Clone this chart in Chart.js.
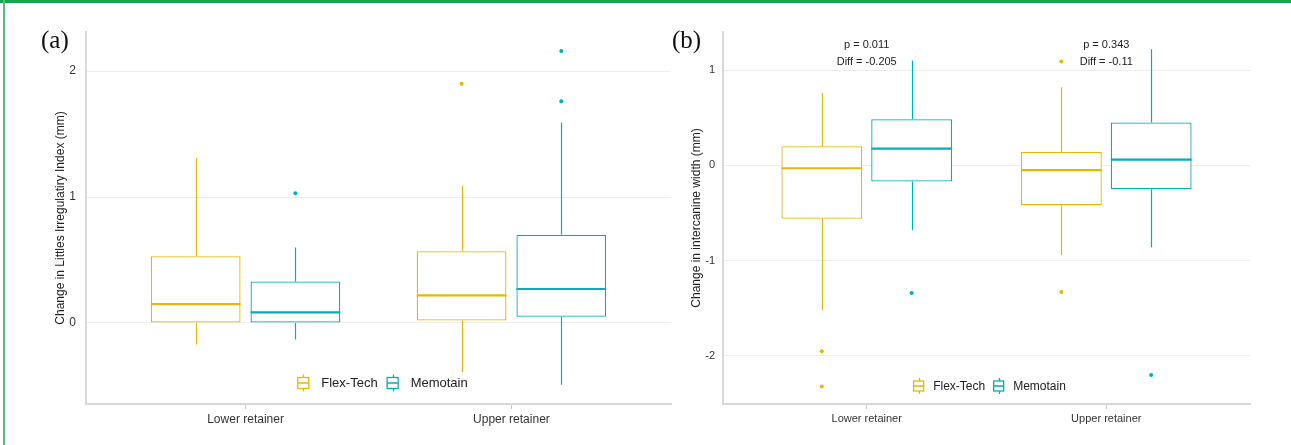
<!DOCTYPE html>
<html><head><meta charset="utf-8">
<script src="https://cdn.jsdelivr.net/npm/chart.js@4.4.1/dist/chart.umd.min.js"></script>
<style>
html,body{margin:0;padding:0;background:#fff;width:1291px;height:445px;overflow:hidden;}
#topbar{position:absolute;left:0;top:0;width:1291px;height:3px;background:#12a74d;}
#leftbar{position:absolute;left:3px;top:0;width:2px;height:445px;background:#52c079;}
.panel{position:absolute;top:0;}
.tag{position:absolute;font-family:"Liberation Serif","DejaVu Serif",serif;font-size:25px;line-height:25px;color:#111;}
</style></head>
<body>
<div id="topbar"></div><div id="leftbar"></div>
<canvas id="ca" class="panel" width="680" height="445" style="left:0"></canvas>
<canvas id="cb" class="panel" width="611" height="445" style="left:680px"></canvas>
<div class="tag" style="left:41px;top:27px">(a)</div>
<div class="tag" style="left:672px;top:27px">(b)</div>
<script>
const categories = ['Lower retainer', 'Upper retainer'];
const seriesNames = ['Flex-Tech', 'Memotain'];
const seriesColors = ['#E7B800', '#00AFBB'];

// Panel (a): Change in Littles Irregularity Index
const aFlexMin = [-0.17, -0.39];
const aFlexQ1  = [0.00, 0.02];
const aFlexMed = [0.15, 0.22];
const aFlexQ3  = [0.53, 0.57];
const aFlexMax = [1.31, 1.09];
const aFlexOut = [[], [1.90]];
const aMemoMin = [-0.13, -0.49];
const aMemoQ1  = [0.00, 0.05];
const aMemoMed = [0.085, 0.27];
const aMemoQ3  = [0.33, 0.70];
const aMemoMax = [0.60, 1.59];
const aMemoOut = [[1.03], [2.16, 1.76]];
const aYTicks = [0, 1, 2];

// Panel (b): Change in intercanine width
const bFlexMin = [-1.52, -0.94];
const bFlexQ1  = [-0.56, -0.42];
const bFlexMed = [-0.03, -0.05];
const bFlexQ3  = [0.20, 0.14];
const bFlexMax = [0.76, 0.82];
const bFlexOut = [[-1.95, -2.32], [1.09, -1.33]];
const bMemoMin = [-0.68, -0.86];
const bMemoQ1  = [-0.17, -0.25];
const bMemoMed = [0.175, 0.06];
const bMemoQ3  = [0.485, 0.45];
const bMemoMax = [1.10, 1.22];
const bMemoOut = [[-1.34], [-2.20]];
const bYTicks = [-2, -1, 0, 1];
const bPLabels = ['p = 0.011', 'p = 0.343'];
const bDiffLabels = ['Diff = -0.205', 'Diff = -0.11'];

const FONT = '"Liberation Sans", Arial, sans-serif';

const boxPlugin = {
  id: 'boxParts',
  afterDatasetsDraw(chart) {
    const ctx = chart.ctx, y = chart.scales.y;
    chart.data.datasets.forEach((ds, di) => {
      const meta = chart.getDatasetMeta(di);
      const s = ds.stats;
      meta.data.forEach((el, j) => {
        const x = Math.round(el.x) + 0.5;
        ctx.save();
        ctx.strokeStyle = ds.borderColor;
        ctx.lineWidth = 1.2;
        ctx.beginPath();
        ctx.moveTo(x, y.getPixelForValue(s.q3[j])); ctx.lineTo(x, y.getPixelForValue(s.max[j]));
        ctx.moveTo(x, y.getPixelForValue(s.q1[j])); ctx.lineTo(x, y.getPixelForValue(s.min[j]));
        ctx.stroke();
        ctx.lineWidth = 2.2;
        const ym = y.getPixelForValue(s.med[j]);
        ctx.beginPath();
        ctx.moveTo(el.x - el.width / 2, ym); ctx.lineTo(el.x + el.width / 2, ym);
        ctx.stroke();
        ctx.fillStyle = ds.borderColor;
        s.out[j].forEach(v => {
          ctx.beginPath();
          ctx.arc(el.x, y.getPixelForValue(v), 2, 0, Math.PI * 2);
          ctx.fill();
        });
        ctx.restore();
      });
    });
  }
};

const innerLegend = {
  id: 'innerLegend',
  afterDraw(chart, args, o) {
    const ctx = chart.ctx, ca = chart.chartArea;
    ctx.save();
    ctx.font = o.size + 'px ' + FONT;
    const widths = seriesNames.map(n => ctx.measureText(n).width);
    let total = 0;
    widths.forEach((w, i) => { total += o.glyph + o.gap + w + (i < widths.length - 1 ? o.itemGap : 0); });
    let x = (ca.left + ca.right) / 2 + o.shift - total / 2;
    const cy = ca.bottom - o.fromBottom;
    seriesNames.forEach((n, i) => {
      const c = seriesColors[i];
      const h = o.glyph - 1;
      ctx.strokeStyle = c; ctx.lineWidth = 1.3;
      ctx.strokeRect(x + 0.5, cy - h / 2, o.glyph - 1, h);
      ctx.beginPath();
      ctx.moveTo(x + 0.5, cy); ctx.lineTo(x + o.glyph - 0.5, cy);
      const mx = Math.round(x + o.glyph / 2) + 0.5;
      ctx.moveTo(mx, cy - h / 2); ctx.lineTo(mx, cy - h / 2 - 3);
      ctx.moveTo(mx, cy + h / 2); ctx.lineTo(mx, cy + h / 2 + 3);
      ctx.stroke();
      x += o.glyph + o.gap;
      ctx.fillStyle = '#222';
      ctx.textBaseline = 'middle';
      ctx.textAlign = 'left';
      ctx.fillText(n, x, cy + 0.5);
      x += widths[i] + o.itemGap;
    });
    ctx.restore();
  }
};

const annotPlugin = {
  id: 'annot',
  afterDraw(chart, args, o) {
    if (!o || !o.lines) return;
    const ctx = chart.ctx, xs = chart.scales.x, ys = chart.scales.y;
    ctx.save();
    ctx.font = o.size + 'px ' + FONT;
    ctx.fillStyle = '#222';
    ctx.textAlign = 'center';
    ctx.textBaseline = 'middle';
    categories.forEach((c, j) => {
      const x = xs.getPixelForValue(j + 1);
      const y0 = ys.getPixelForValue(o.yValue);
      o.lines.forEach((arr, k) => {
        ctx.fillText(arr[j], x, y0 + (k - (o.lines.length - 1) / 2) * o.lineHeight);
      });
    });
    ctx.restore();
  }
};

function makeChart(id, stats, p) {
  return new Chart(document.getElementById(id), {
    type: 'bar',
    data: {
      datasets: seriesNames.map((name, si) => ({
        label: name,
        data: categories.map((c, j) => ({ x: j + 1, y: [stats[si].q1[j], stats[si].q3[j]] })),
        backgroundColor: '#ffffff',
        borderColor: seriesColors[si],
        borderWidth: 1.3,
        borderSkipped: false,
        categoryPercentage: 0.75,
        barPercentage: 0.9,
        stats: stats[si]
      }))
    },
    options: {
      responsive: false,
      animation: false,
      events: [],
      layout: { padding: { left: p.padLeft, top: 32, right: p.padRight, bottom: 0 } },
      plugins: {
        legend: { display: false },
        tooltip: { enabled: false },
        innerLegend: p.legend,
        annot: p.annot || {}
      },
      scales: {
        x: {
          type: 'linear', min: 0.4, max: 2.6, offset: false,
          afterBuildTicks: s => { s.ticks = categories.map((c, i) => ({ value: i + 1 })); },
          afterFit: s => { s.height = 41; },
          ticks: {
            callback: v => categories[v - 1] || '',
            font: { family: FONT, size: p.fs }, color: '#333',
            padding: 3, maxRotation: 0, autoSkip: false
          },
          grid: { offset: false, drawOnChartArea: false, drawTicks: true, tickLength: 5, color: '#c8c8c8' },
          border: { display: true, color: '#d9d9d9', width: 2 }
        },
        y: {
          type: 'linear', min: p.yMin, max: p.yMax,
          afterBuildTicks: s => { s.ticks = p.yTicks.map(v => ({ value: v })); },
          afterFit: s => { s.width = p.axisW; },
          ticks: { font: { family: FONT, size: p.fs }, color: '#333', padding: p.tickPad },
          grid: { color: '#eeeeee', drawTicks: false, lineWidth: 1 },
          border: { display: true, color: '#d9d9d9', width: 2 },
          title: { display: true, text: p.yTitle, font: { family: FONT, size: 12 }, color: '#222', padding: 0 }
        }
      }
    },
    plugins: [boxPlugin, innerLegend, annotPlugin]
  });
}

makeChart('ca', [
  { min: aFlexMin, q1: aFlexQ1, med: aFlexMed, q3: aFlexQ3, max: aFlexMax, out: aFlexOut },
  { min: aMemoMin, q1: aMemoQ1, med: aMemoMed, q3: aMemoQ3, max: aMemoMax, out: aMemoOut }
], {
  padLeft: 53, axisW: 33, padRight: 9, yMin: -0.643, yMax: 2.31, yTicks: aYTicks,
  yTitle: 'Change in Littles Irregulatiry Index (mm)', fs: 12, tickPad: 10,
  legend: { size: 13, glyph: 12, gap: 12, itemGap: 9, fromBottom: 21, shift: 4 }
});

makeChart('cb', [
  { min: bFlexMin, q1: bFlexQ1, med: bFlexMed, q3: bFlexQ3, max: bFlexMax, out: bFlexOut },
  { min: bMemoMin, q1: bMemoQ1, med: bMemoMed, q3: bMemoQ3, max: bMemoMax, out: bMemoOut }
], {
  padLeft: 9, axisW: 34, padRight: 41, yMin: -2.505, yMax: 1.40, yTicks: bYTicks,
  yTitle: 'Change in intercanine width (mm)', fs: 11, tickPad: 8,
  legend: { size: 12, glyph: 11, gap: 9, itemGap: 8, fromBottom: 18, shift: 3 },
  annot: { lines: [bPLabels, bDiffLabels], yValue: 1.175, lineHeight: 16.4, size: 11 }
});
</script>
</body></html>
